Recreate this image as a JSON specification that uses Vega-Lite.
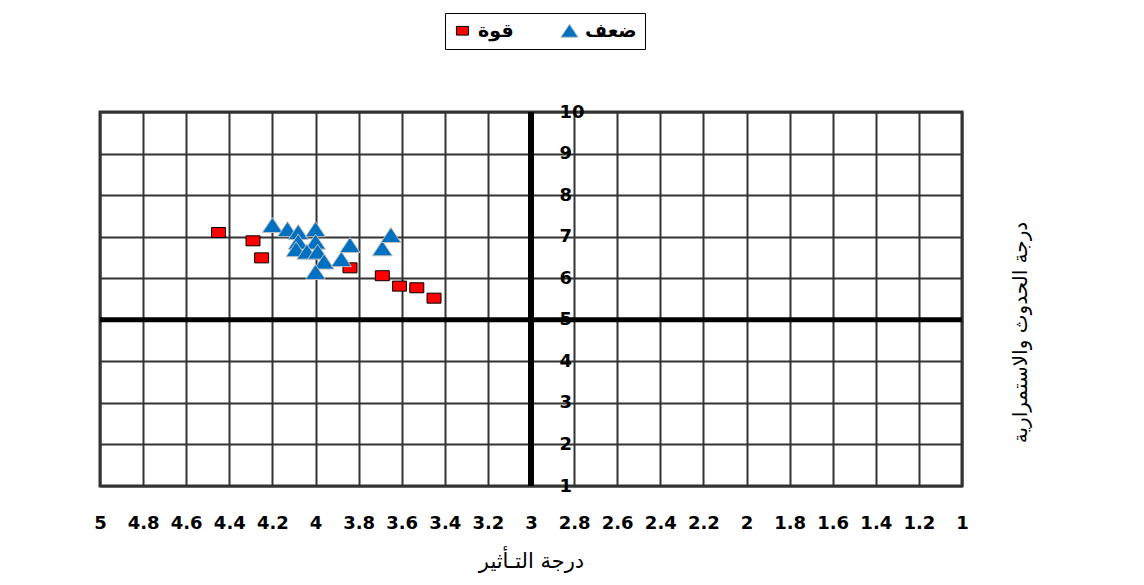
{
  "$schema": "https://vega.github.io/schema/vega-lite/v6.json",
  "width": 862,
  "height": 374,
  "autosize": {"type": "none"},
  "padding": {"left": 100, "top": 112, "right": 182, "bottom": 99},
  "background": "white",
  "config": {
    "view": {"stroke": "#333333", "strokeWidth": 3},
    "font": "DejaVu Sans"
  },
  "datasets": {
    "pts": [
      {"series": "قوة", "impact": 4.45, "occurrence": 7.10},
      {"series": "قوة", "impact": 4.29, "occurrence": 6.90},
      {"series": "قوة", "impact": 4.25, "occurrence": 6.49},
      {"series": "قوة", "impact": 3.84, "occurrence": 6.25},
      {"series": "قوة", "impact": 3.69, "occurrence": 6.06},
      {"series": "قوة", "impact": 3.61, "occurrence": 5.81},
      {"series": "قوة", "impact": 3.53, "occurrence": 5.77},
      {"series": "قوة", "impact": 3.45, "occurrence": 5.52},
      {"series": "ضعف", "impact": 4.20, "occurrence": 7.28},
      {"series": "ضعف", "impact": 4.13, "occurrence": 7.18},
      {"series": "ضعف", "impact": 4.08, "occurrence": 7.11},
      {"series": "ضعف", "impact": 4.00, "occurrence": 7.18},
      {"series": "ضعف", "impact": 4.08, "occurrence": 6.88},
      {"series": "ضعف", "impact": 4.00, "occurrence": 6.88},
      {"series": "ضعف", "impact": 4.09, "occurrence": 6.70},
      {"series": "ضعف", "impact": 4.04, "occurrence": 6.64},
      {"series": "ضعف", "impact": 3.99, "occurrence": 6.64},
      {"series": "ضعف", "impact": 3.96, "occurrence": 6.40},
      {"series": "ضعف", "impact": 3.88, "occurrence": 6.46},
      {"series": "ضعف", "impact": 3.84, "occurrence": 6.80},
      {"series": "ضعف", "impact": 4.00, "occurrence": 6.15},
      {"series": "ضعف", "impact": 3.69, "occurrence": 6.72},
      {"series": "ضعف", "impact": 3.65, "occurrence": 7.04}
    ]
  },
  "resolve": {"axis": {"y": "independent"}},
  "layer": [
    {
      "data": {"values": [{}]},
      "mark": {"type": "rule", "color": "black", "strokeWidth": 6},
      "encoding": {
        "x": {"datum": 3, "type": "quantitative"},
        "y": {"datum": 1, "type": "quantitative", "axis": null},
        "y2": {"datum": 10}
      }
    },
    {
      "data": {"values": [{}]},
      "mark": {"type": "rule", "color": "black", "strokeWidth": 5},
      "encoding": {
        "y": {"datum": 5, "type": "quantitative", "axis": null}
      }
    },
    {
      "data": {"name": "pts"},
      "mark": {"type": "point", "filled": true, "opacity": 1, "size": 400, "strokeWidth": 1},
      "encoding": {
        "x": {
          "field": "impact", "type": "quantitative",
          "scale": {"domain": [1, 5], "reverse": true, "nice": false, "zero": false},
          "axis": {
            "values": [5, 4.8, 4.6, 4.4, 4.2, 4, 3.8, 3.6, 3.4, 3.2, 3, 2.8, 2.6, 2.4, 2.2, 2, 1.8, 1.6, 1.4, 1.2, 1],
            "format": "~g",
            "grid": true, "gridColor": "#333333", "gridWidth": 2, "gridOpacity": 1,
            "ticks": false, "tickSize": 0, "domain": false,
            "labelPadding": 28, "labelFont": "DejaVu Sans", "labelFontWeight": "bold", "labelFontSize": 18, "labelColor": "black",
            "labelOverlap": false, "labelFlush": false,
            "title": "درجة التـأثير", "titleFont": "DejaVu Sans", "titleFontSize": 21, "titleFontWeight": "normal", "titleColor": "black", "titlePadding": 18
          }
        },
        "y": {
          "field": "occurrence", "type": "quantitative",
          "scale": {"domain": [1, 10], "nice": false, "zero": false},
          "axis": {
            "orient": "right", "offset": -431,
            "values": [1, 2, 3, 4, 5, 6, 7, 8, 9, 10],
            "grid": true, "gridColor": "#333333", "gridWidth": 2, "gridOpacity": 1,
            "ticks": false, "tickSize": 0, "domain": false,
            "labelPadding": 28, "labelFont": "DejaVu Sans", "labelFontWeight": "bold", "labelFontSize": 18, "labelColor": "black",
            "labelOverlap": false, "labelFlush": false,
            "title": null
          }
        },
        "shape": {
          "field": "series", "type": "nominal",
          "scale": {"domain": ["قوة", "ضعف"], "range": ["M-0.7,-0.5L0.7,-0.5L0.7,0.5L-0.7,0.5Z", "M0,-0.75L1,0.75L-1,0.75Z"]},
          "legend": {
            "title": null, "orient": "none", "direction": "horizontal",
            "legendX": 345, "legendY": -99,
            "strokeColor": "black", "fillColor": "white", "padding": 8,
            "columnPadding": 44, "symbolSize": 300, "symbolStrokeWidth": 1,
            "labelFont": "DejaVu Sans", "labelFontSize": 19, "labelFontWeight": "bold", "labelColor": "black", "labelOffset": 6
          }
        },
        "fill": {
          "field": "series", "type": "nominal",
          "scale": {"domain": ["قوة", "ضعف"], "range": ["#FF0000", "#0070C0"]},
          "legend": {
            "title": null, "orient": "none", "direction": "horizontal",
            "legendX": 345, "legendY": -99,
            "strokeColor": "black", "fillColor": "white", "padding": 8,
            "columnPadding": 44, "symbolSize": 300, "symbolStrokeWidth": 1,
            "labelFont": "DejaVu Sans", "labelFontSize": 19, "labelFontWeight": "bold", "labelColor": "black", "labelOffset": 6
          }
        },
        "stroke": {
          "field": "series", "type": "nominal",
          "scale": {"domain": ["قوة", "ضعف"], "range": ["#000000", "#BFBFBF"]},
          "legend": {
            "title": null, "orient": "none", "direction": "horizontal",
            "legendX": 345, "legendY": -99,
            "strokeColor": "black", "fillColor": "white", "padding": 8,
            "columnPadding": 44, "symbolSize": 300, "symbolStrokeWidth": 1,
            "labelFont": "DejaVu Sans", "labelFontSize": 19, "labelFontWeight": "bold", "labelColor": "black", "labelOffset": 6
          }
        }
      }
    },
    {
      "data": {"values": [{}]},
      "mark": {"type": "rule", "opacity": 0},
      "encoding": {
        "y": {
          "datum": 5, "type": "quantitative",
          "axis": {
            "orient": "right", "labels": false, "ticks": false, "domain": false, "grid": false,
            "title": "درجة الحدوث والاستمرارية", "titleFont": "DejaVu Sans", "titleFontSize": 20, "titleFontWeight": "normal", "titleColor": "black",
            "titleAngle": 270, "titlePadding": 68, "titleY": 220
          }
        }
      }
    }
  ]
}
